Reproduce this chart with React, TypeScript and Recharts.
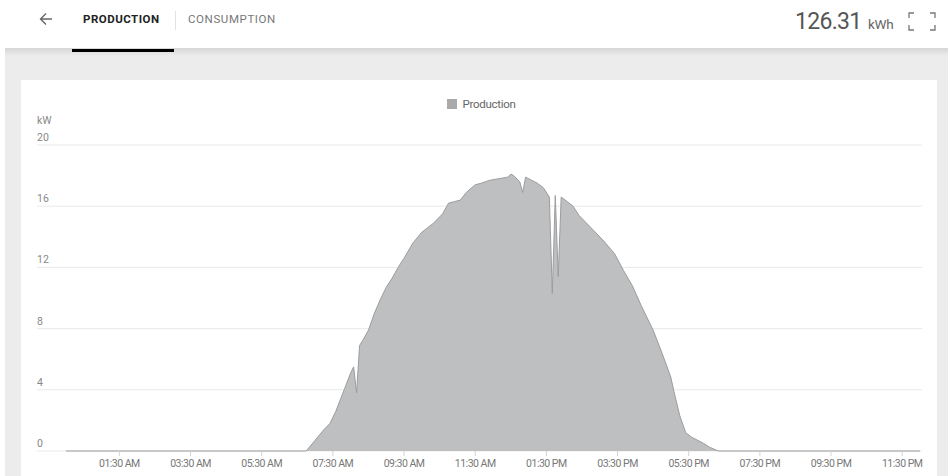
import React from "react";
import { AreaChart, Area, XAxis, YAxis, Legend, CartesianGrid } from "recharts";

const minutesOfDay = [
  0, 405, 420, 435, 445, 455, 465, 470, 480, 485, 490, 495, 500, 510, 520, 530, 540, 550, 560, 570,
  585, 600, 620, 635, 645, 655, 665, 675, 690, 700, 715, 730, 745, 750, 755, 765, 770, 775, 785, 795,
  805, 815, 820, 825, 830, 835, 845, 855, 865, 885, 905, 925, 940, 955, 970, 990, 1005, 1020, 1025,
  1035, 1045, 1055, 1065, 1075, 1085, 1100, 1440,
];

const productionKw = [
  0, 0, 0.7, 1.4, 1.8, 2.6, 3.6, 4.1, 5.1, 5.5, 3.8, 6.9, 7.2, 7.9, 9.0, 9.9, 10.7, 11.3, 12.0, 12.6,
  13.6, 14.3, 14.9, 15.5, 16.2, 16.3, 16.4, 16.9, 17.4, 17.5, 17.7, 17.8, 17.9, 18.1, 18.0, 17.6, 16.9,
  17.9, 17.7, 17.5, 17.2, 16.6, 10.3, 16.7, 11.4, 16.6, 16.3, 16.0, 15.4, 14.6, 13.8, 12.9, 11.8, 10.8,
  9.5, 7.9, 6.4, 4.8, 3.9, 2.3, 1.2, 0.9, 0.7, 0.5, 0.25, 0, 0,
];

const xTicks = [90, 210, 330, 450, 570, 690, 810, 930, 1050, 1170, 1290, 1410];
const yTicks = [0, 4, 8, 12, 16, 20];

const data = minutesOfDay.map((m, i) => ({ t: m, production: productionKw[i] }));

const fmtTime = (m: number) => {
  const h24 = Math.floor(m / 60);
  const mm = m % 60;
  const ampm = h24 < 12 ? "AM" : "PM";
  let h = h24 % 12;
  if (h === 0) h = 12;
  return `${String(h).padStart(2, "0")}:${String(mm).padStart(2, "0")} ${ampm}`;
};

const FONT = "Roboto, 'Noto Sans', sans-serif";

const YTick = (props: any) => {
  const { y, payload } = props;
  return (
    <text x={37} y={y - 4} fill="#888" fontSize={10.5} fontFamily={FONT} textAnchor="start">
      {payload.value}
    </text>
  );
};

const XTick = (props: any) => {
  const { x, y, payload } = props;
  return (
    <text x={x} y={y} dy="0.71em" fill="#777" fontSize={10.5} fontFamily={FONT} textAnchor="middle" letterSpacing={-0.5}>
      {fmtTime(payload.value)}
    </text>
  );
};

const GridLine = (props: any) => {
  const { y1, y2 } = props;
  return <line x1={37} x2={922} y1={y1} y2={y2} stroke="#e9e9e9" strokeWidth={1} />;
};

const LegendContent = () => (
  <div style={{ display: "flex", justifyContent: "center", alignItems: "center", fontFamily: FONT, paddingLeft: 14 }}>
    <span style={{ width: 10, height: 10, background: "#aaaaaa", display: "inline-block", marginRight: 6 }} />
    <span style={{ fontSize: 11.5, color: "#666", letterSpacing: -0.3 }}>Production</span>
  </div>
);

export default function App() {
  return (
    <div style={{ position: "fixed", left: 0, top: 0, width: 948, height: 476, background: "#fff", overflow: "hidden", fontFamily: FONT }}>
      <div style={{ position: "absolute", left: 5, top: 48, width: 943, height: 428, background: "#ececec" }} />
      <div style={{ position: "absolute", left: 5, top: 48, width: 943, height: 8, background: "linear-gradient(#d6d6d6, #ececec)" }} />
      <div style={{ position: "absolute", left: 21, top: 80, width: 916, height: 396, background: "#fff" }} />

      <div style={{ position: "absolute", left: 0, top: 0 }}>
        <AreaChart width={948} height={476} data={data} margin={{ top: 145, right: 28, bottom: 0, left: 0 }}>
          <CartesianGrid vertical={false} horizontal={(p: any) => <GridLine key={p.key ?? p.index} {...p} />} />
          <YAxis
            width={66}
            domain={[0, 20]}
            ticks={yTicks}
            axisLine={false}
            tickLine={false}
            tick={<YTick />}
            interval={0}
          />
          <XAxis
            dataKey="t"
            type="number"
            domain={[0, 1440]}
            ticks={xTicks}
            height={25}
            axisLine={false}
            tickLine={{ stroke: "#d4d4d4" }}
            tickSize={5}
            tickMargin={4}
            tick={<XTick />}
            interval={0}
          />
          <Legend
            layout="vertical"
            align="center"
            verticalAlign="middle"
            wrapperStyle={{ top: 97, left: 0, width: 948 }}
            content={<LegendContent />}
          />
          <Area
            type="linear"
            dataKey="production"
            name="Production"
            stroke="#9c9c9c"
            strokeWidth={1}
            fill="#bebfc0"
            fillOpacity={1}
            isAnimationActive={false}
            dot={false}
            activeDot={false}
          />
        </AreaChart>
      </div>

      <div style={{ position: "absolute", left: 37, top: 114, fontSize: 10.5, color: "#888" }}>kW</div>

      <svg style={{ position: "absolute", left: 38, top: 10 }} width={16} height={18}>
        <path d="M14 9 H3 M8 3.5 L2.5 9 L8 14.5" stroke="#666" strokeWidth={1.4} fill="none" />
      </svg>
      <div style={{ position: "absolute", left: 83, top: 12, fontSize: 11.5, fontWeight: 700, color: "#222", letterSpacing: 0.5 }}>PRODUCTION</div>
      <div style={{ position: "absolute", left: 175, top: 11, width: 1, height: 19, background: "#e2e2e2" }} />
      <div style={{ position: "absolute", left: 188, top: 12, fontSize: 11.5, color: "#777", letterSpacing: 0.6 }}>CONSUMPTION</div>
      <div style={{ position: "absolute", left: 72, top: 49, width: 102, height: 3, background: "#000" }} />

      <div style={{ position: "absolute", left: 795, top: 8, fontSize: 23, color: "#555", letterSpacing: -0.7 }}>126.31</div>
      <div style={{ position: "absolute", left: 868, top: 16, fontSize: 13.5, color: "#666", letterSpacing: -0.3 }}>kWh</div>
      <svg style={{ position: "absolute", left: 907, top: 12 }} width={30} height={19}>
        <path d="M7 1 H2 V6 M23 1 H28 V6 M7 18 H2 V13 M23 18 H28 V13" stroke="#777" strokeWidth={1.3} fill="none" />
      </svg>
    </div>
  );
}
